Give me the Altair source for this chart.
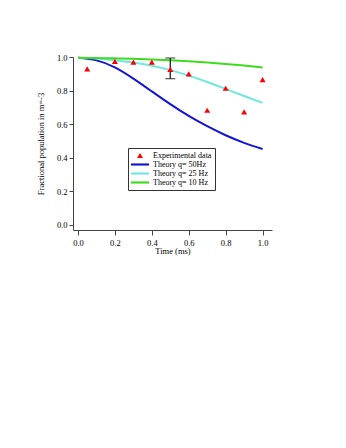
import altair as alt
import pandas as pd

# ---- data ----
t_curve = [0.0, 0.1, 0.2, 0.3, 0.4, 0.5, 0.6, 0.7, 0.8, 0.9, 1.0]
q50 = [0.995, 0.980, 0.938, 0.871, 0.795, 0.719, 0.649, 0.588, 0.534, 0.489, 0.452]
q25 = [0.995, 0.991, 0.981, 0.967, 0.948, 0.922, 0.889, 0.851, 0.810, 0.768, 0.727]
q10 = [0.995, 0.994, 0.992, 0.989, 0.985, 0.980, 0.974, 0.967, 0.959, 0.949, 0.938]

t_exp = [0.05, 0.2, 0.3, 0.4, 0.5, 0.6, 0.7, 0.8, 0.9, 1.0]
v_exp = [0.929, 0.974, 0.970, 0.970, 0.926, 0.899, 0.683, 0.814, 0.673, 0.865]

err_t = [0.5]
err_lo = [0.871]
err_hi = [0.994]

series_names = ["Experimental data", "Theory q= 50Hz", "Theory q= 25 Hz", "Theory q= 10 Hz"]
series_colors = ["#FF0000", "#1414D2", "#6FE9DC", "#3EDC1E"]

x_ticks = [0.0, 0.2, 0.4, 0.6, 0.8, 1.0]
y_ticks = [0.0, 0.2, 0.4, 0.6, 0.8, 1.0]

# legend / marker glyphs (unit-square SVG paths)
TRI = "M0,-0.58L-0.67,0.58L0.67,0.58Z"
BAR = "M-2,-0.24L2,-0.24L2,0.24L-2,0.24Z"
series_shapes = [TRI, BAR, BAR, BAR]

# ---- tables ----
rows = []
for name, vals in zip(series_names[1:], [q50, q25, q10]):
    for t, v in zip(t_curve, vals):
        rows.append({"t": t, "v": v, "series": name})
df_lines = pd.DataFrame(rows)
df_pts = pd.DataFrame({"t": t_exp, "v": v_exp, "series": series_names[0]})
df_err = pd.DataFrame({"t": err_t, "lo": err_lo, "hi": err_hi})

FONT = "Liberation Serif"

xscale = alt.Scale(domain=[-0.027, 1.051], nice=False, zero=False)
yscale = alt.Scale(domain=[-0.03, 1.0], nice=False, zero=False)
cscale = alt.Scale(domain=series_names, range=series_colors)
sscale = alt.Scale(domain=series_names, range=series_shapes)

xax = alt.Axis(values=x_ticks, format=".1f", title="Time (ms)", tickSize=5,
               labelPadding=3, titlePadding=0, grid=False, labelOverlap=False)
yax = alt.Axis(values=y_ticks, format=".1f", title="Fractional population in m=-3",
               tickSize=4, labelPadding=2, titlePadding=11, grid=False, labelOverlap=False)

X = alt.X("t:Q", scale=xscale, axis=xax)

legend = alt.Legend(
    title=None, orient="none", legendX=55, legendY=91,
    padding=3, strokeColor="#333333", fillColor="white",
    labelFont=FONT, labelFontSize=8, labelColor="black",
    symbolOffset=4.5, labelOffset=8.5,
    rowPadding=0, symbolSize=81, symbolStrokeWidth=0, symbolOpacity=1,
)

lines = alt.Chart(df_lines).mark_line(strokeWidth=2, interpolate="natural").encode(
    x=X,
    y=alt.Y("v:Q", scale=yscale, axis=yax),
    color=alt.Color("series:N", scale=cscale, legend=None),
)

pts = alt.Chart(df_pts).mark_point(filled=True, size=81, opacity=1, strokeWidth=0).encode(
    x=X,
    y=alt.Y("v:Q", scale=yscale, axis=yax),
    color=alt.Color("series:N", scale=cscale, legend=legend),
    shape=alt.Shape("series:N", scale=sscale, legend=legend),
)

err_rule = alt.Chart(df_err).mark_rule(color="#222222", strokeWidth=1.3).encode(
    x=X,
    y=alt.Y("lo:Q", scale=yscale, axis=yax),
    y2="hi:Q",
)
cap_lo = alt.Chart(df_err).mark_tick(color="#222222", orient="horizontal", size=10, thickness=1.3).encode(
    x=X,
    y=alt.Y("lo:Q", scale=yscale, axis=yax),
)
cap_hi = alt.Chart(df_err).mark_tick(color="#222222", orient="horizontal", size=10, thickness=1.3).encode(
    x=X,
    y=alt.Y("hi:Q", scale=yscale, axis=yax),
)

chart = alt.layer(lines, err_rule, cap_lo, cap_hi, pts).resolve_legend(
    color="independent", shape="independent"
).properties(
    width=199, height=173,
    autosize=alt.AutoSizeParams(type="none"),
    padding={"left": 65, "top": 49, "right": 60, "bottom": 180},
).configure_view(stroke=None).configure_axis(
    labelFont=FONT, titleFont=FONT, labelFontSize=8.5, titleFontSize=8.5,
    labelColor="black", titleColor="black", titleFontWeight="normal",
    domainColor="#444444", tickColor="#444444", domainWidth=1, tickWidth=1,
    labelOverlap=False,
)

chart.save("out.html", embed_options={"renderer": "svg", "actions": False})
